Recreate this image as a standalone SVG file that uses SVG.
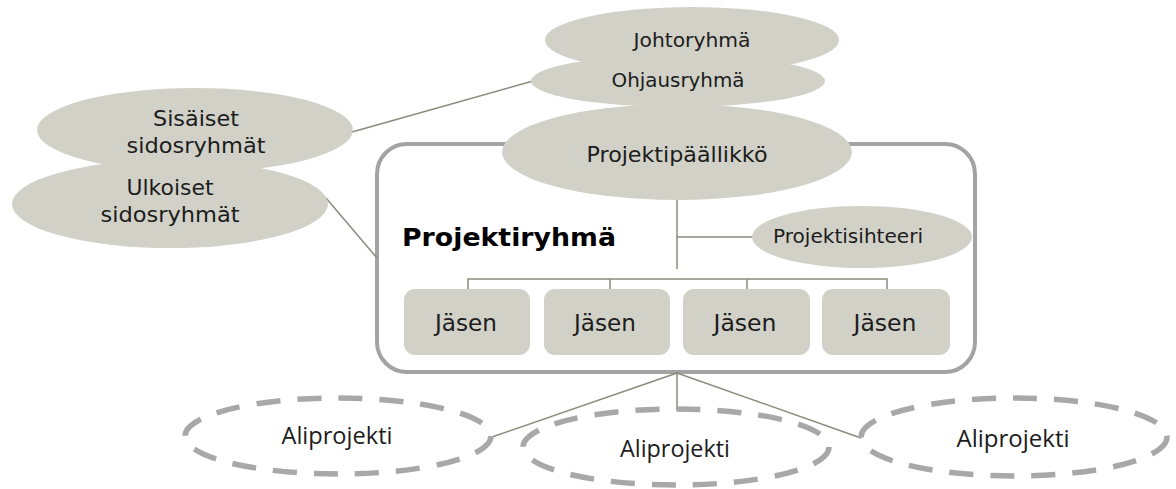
<svg xmlns="http://www.w3.org/2000/svg" width="1176" height="489" viewBox="0 0 1176 489">
<style>
.el{fill:#d1d1c8;}
.t{font-family:"DejaVu Sans",Verdana,sans-serif;fill:#1c1c1c;text-anchor:middle;}
.ta{font-family:"Open Sans","DejaVu Sans",sans-serif;fill:#1c1c1c;text-anchor:middle;font-size:23px;}
.ln{stroke:#8a8a7e;stroke-width:1.5;fill:none;}
.box{fill:#d1d1c8;}
.dash{fill:none;stroke:#a8a8a8;stroke-width:5.5;stroke-dasharray:24 17;}
</style>
<rect width="1176" height="489" fill="#ffffff"/>
<g id="projektiryhma">
<rect x="377" y="144" width="598" height="228" rx="30" fill="#ffffff" stroke="#a3a3a3" stroke-width="4"/>
<text x="402" y="246" font-family="DejaVu Sans,Verdana,sans-serif" font-weight="bold" font-size="25.5" fill="#000" textLength="214" lengthAdjust="spacingAndGlyphs">Projektiryhmä</text>
</g>
<g id="connectors">
<line class="ln" x1="352" y1="132" x2="533" y2="81"/>
<line class="ln" x1="326" y1="198" x2="377" y2="258"/>
<line class="ln" x1="677" y1="195" x2="677" y2="269"/>
<line class="ln" x1="677" y1="237" x2="754" y2="237"/>
<polyline class="ln" points="468,290 468,279 887,279 887,290"/>
<line class="ln" x1="610" y1="279" x2="610" y2="290"/>
<line class="ln" x1="747" y1="279" x2="747" y2="290"/>
<line class="ln" x1="677" y1="373" x2="492" y2="437"/>
<line class="ln" x1="677" y1="373" x2="677" y2="410"/>
<line class="ln" x1="677" y1="373" x2="861" y2="438"/>
</g>
<g id="johtoryhma">
<ellipse class="el" cx="692" cy="40" rx="147" ry="33"/>
<text class="t" x="692" y="47" font-size="20" textLength="117" lengthAdjust="spacingAndGlyphs">Johtoryhmä</text>
</g>
<g id="ohjausryhma">
<ellipse class="el" cx="678" cy="81" rx="147" ry="26"/>
<text class="t" x="678" y="87" font-size="20" textLength="133" lengthAdjust="spacingAndGlyphs">Ohjausryhmä</text>
</g>
<g id="projektipaallikko">
<ellipse class="el" cx="677" cy="152" rx="175" ry="48"/>
<text class="t" x="677" y="162" font-size="21.5" textLength="181" lengthAdjust="spacingAndGlyphs">Projektipäällikkö</text>
</g>
<g id="sisaiset">
<ellipse class="el" cx="195" cy="130" rx="158" ry="42"/>
<text class="t" x="196" y="126" font-size="21.5" textLength="86" lengthAdjust="spacingAndGlyphs">Sisäiset</text>
<text class="t" x="196" y="153" font-size="21.5" textLength="139" lengthAdjust="spacingAndGlyphs">sidosryhmät</text>
</g>
<g id="ulkoiset">
<ellipse class="el" cx="170" cy="204" rx="158" ry="44"/>
<text class="t" x="170" y="195" font-size="21.5" textLength="87" lengthAdjust="spacingAndGlyphs">Ulkoiset</text>
<text class="t" x="170" y="222" font-size="21.5" textLength="139" lengthAdjust="spacingAndGlyphs">sidosryhmät</text>
</g>
<g id="projektisihteeri">
<ellipse class="el" cx="862" cy="237" rx="110" ry="31"/>
<text class="t" x="848" y="243" font-size="20" textLength="150" lengthAdjust="spacingAndGlyphs">Projektisihteeri</text>
</g>
<g id="jasen1"><rect class="box" x="404" y="289" width="126" height="66" rx="11"/><text class="t" x="466" y="331" font-size="22.5" textLength="62" lengthAdjust="spacingAndGlyphs">Jäsen</text></g>
<g id="jasen2"><rect class="box" x="544" y="289" width="126" height="66" rx="11"/><text class="t" x="605" y="331" font-size="22.5" textLength="62" lengthAdjust="spacingAndGlyphs">Jäsen</text></g>
<g id="jasen3"><rect class="box" x="683" y="289" width="127" height="66" rx="11"/><text class="t" x="745" y="331" font-size="22.5" textLength="63" lengthAdjust="spacingAndGlyphs">Jäsen</text></g>
<g id="jasen4"><rect class="box" x="822" y="289" width="128" height="66" rx="11"/><text class="t" x="885" y="331" font-size="22.5" textLength="63" lengthAdjust="spacingAndGlyphs">Jäsen</text></g>
<g id="aliprojekti1"><ellipse class="dash" cx="338" cy="436" rx="153" ry="38"/><text class="ta" x="337" y="444" textLength="111" lengthAdjust="spacingAndGlyphs">Aliprojekti</text></g>
<g id="aliprojekti2"><ellipse class="dash" cx="676" cy="447" rx="153" ry="38"/><text class="ta" x="675" y="457" textLength="110" lengthAdjust="spacingAndGlyphs">Aliprojekti</text></g>
<g id="aliprojekti3"><ellipse class="dash" cx="1014" cy="437" rx="153" ry="39"/><text class="ta" x="1013" y="447" textLength="113" lengthAdjust="spacingAndGlyphs">Aliprojekti</text></g>
</svg>
